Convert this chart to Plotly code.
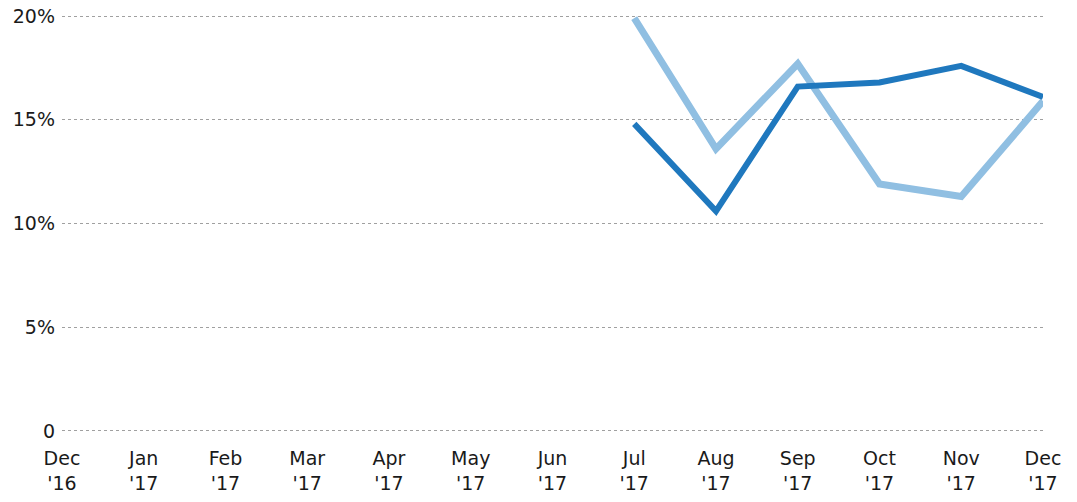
import plotly.graph_objects as go

months = ["Dec<br>'16", "Jan<br>'17", "Feb<br>'17", "Mar<br>'17", "Apr<br>'17", "May<br>'17",
          "Jun<br>'17", "Jul<br>'17", "Aug<br>'17", "Sep<br>'17", "Oct<br>'17", "Nov<br>'17", "Dec<br>'17"]
series_dark = [None, None, None, None, None, None, None, 14.8, 10.6, 16.6, 16.8, 17.6, 16.1]
series_light = [None, None, None, None, None, None, None, 19.9, 13.6, 17.7, 11.9, 11.3, 15.9]
y_ticks = [0, 5, 10, 15, 20]
y_labels = ["0", "5%", "10%", "15%", "20%"]

x_idx = list(range(len(months)))

fig = go.Figure()
fig.add_trace(go.Scatter(x=x_idx, y=series_light, mode="lines",
                         line=dict(color="#90bfe2", width=7), cliponaxis=False,
                         showlegend=False, connectgaps=False))
fig.add_trace(go.Scatter(x=x_idx, y=series_dark, mode="lines",
                         line=dict(color="#1f78be", width=6), cliponaxis=False,
                         showlegend=False, connectgaps=False))

fig.update_layout(
    width=1077, height=502,
    margin=dict(l=62, r=34, t=15, b=70),
    plot_bgcolor="white", paper_bgcolor="white",
    font=dict(family="DejaVu Sans", size=19, color="#1a1a1a"),
    xaxis=dict(range=[0, 12], tickmode="array", tickvals=x_idx, ticktext=months,
               showgrid=False, zeroline=False, showline=False, ticks="",
               ticklabelstandoff=13, automargin=False, ticklabeloverflow="allow"),
    yaxis=dict(range=[-0.05, 20.05], tickmode="array", tickvals=y_ticks, ticktext=y_labels,
               showgrid=True, gridcolor="#a0a0a0", gridwidth=1, griddash="dot",
               zeroline=False, showline=False, ticks="", ticklabelstandoff=6,
               automargin=False, ticklabeloverflow="allow"),
)

fig.write_html("out.html", config={"displayModeBar": False},
               post_script="document.body.style.margin='0';document.body.style.overflow='hidden';")
